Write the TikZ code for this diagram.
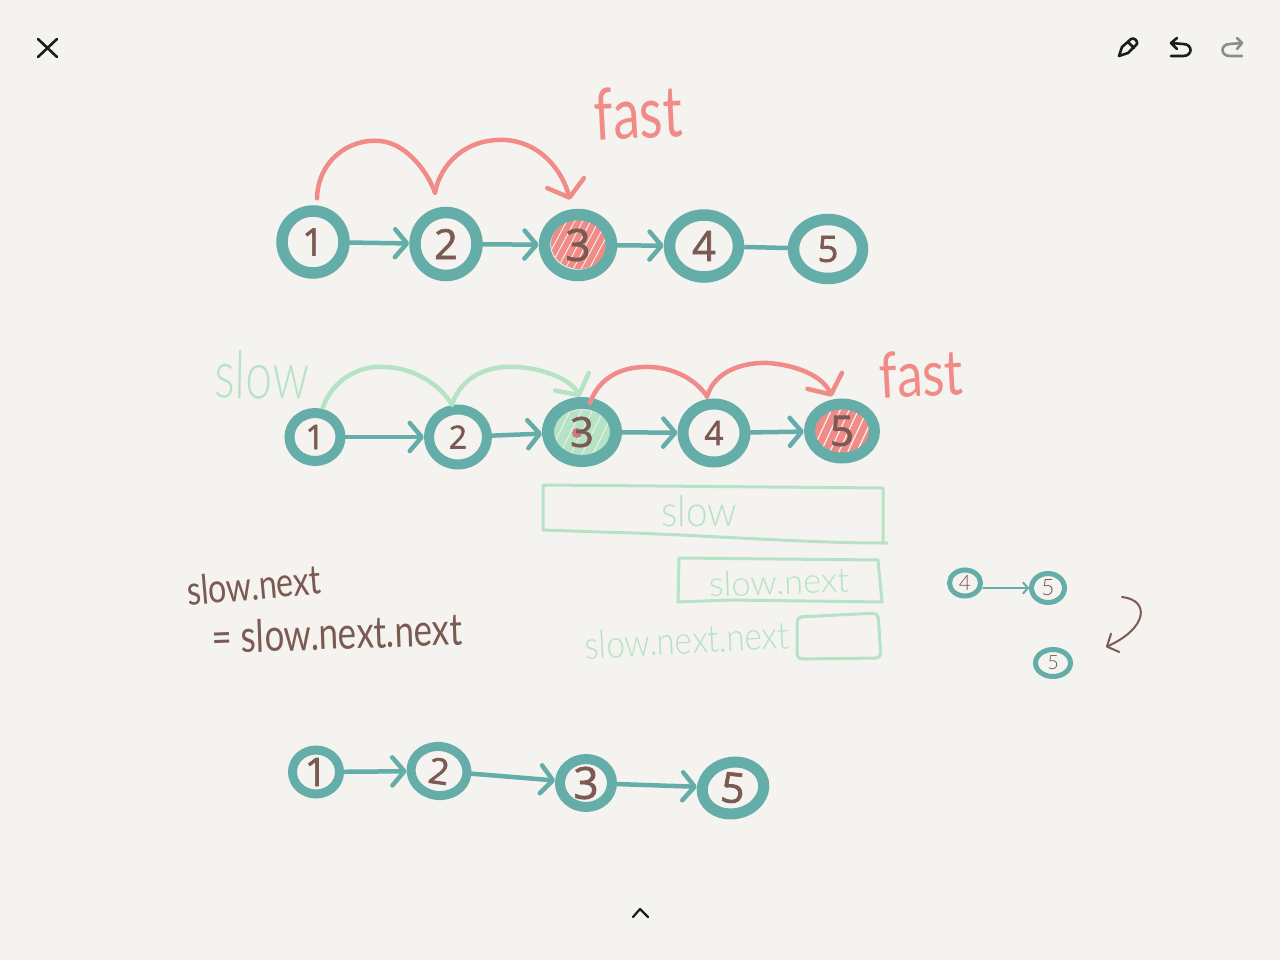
\documentclass[tikz,border=0pt]{standalone}
\usepackage{graphicx}
\usepackage{fontspec}
\setmainfont{Lato}
\newfontfamily\handf[UprightFont={* Light}]{Lato}
\newfontfamily\digitf[FakeBold=1.6]{Open Sans}
\usetikzlibrary{arrows.meta,shapes.geometric}
\definecolor{tealc}{HTML}{65ADA9}
\definecolor{redc}{HTML}{F18B88}
\definecolor{greenc}{HTML}{B6E2C6}
\definecolor{brownc}{HTML}{7A5A52}
\definecolor{bgc}{HTML}{F5F3EF}
\definecolor{inkc}{HTML}{1C1C1C}
\definecolor{dimc}{HTML}{8C8C88}
\newcommand\hw[3]{\resizebox{#1pt}{#2pt}{\handf #3}}
\newcommand\hwb[3]{\resizebox{#1pt}{#2pt}{#3}}
\newcommand\dg[2]{\resizebox{!}{#1pt}{\digitf #2}}
\newcommand\dgt[2]{\resizebox{!}{#1pt}{\handf #2}}
\tikzset{
  ring/.style={ellipse,draw=tealc,line width=#1,inner sep=0pt,text=brownc},
  handtext/.style={inner sep=0pt,text=#1},
  link/.style={draw=tealc,line width=4.5pt,line cap=round,-{Straight Barb[round,length=12pt,width=28pt,line width=4.5pt]}},
  linkplain/.style={draw=tealc,line width=4.5pt},
  tinylink/.style={draw=tealc,line width=2pt,line cap=round,-{Straight Barb[round,length=5pt,width=11pt,line width=2pt]}},
  hop/.style={draw=#1,line width=4.5pt,line cap=round},
  hophead/.style={draw=#1,line width=4.5pt,line cap=round,-{Straight Barb[round,length=15pt,width=38pt,line width=4.5pt]}},
  boxline/.style={draw=greenc,line width=3pt,line cap=round,line join=round},
  icon/.style={draw=#1,line width=2.6pt,line cap=round,line join=round}
}
\begin{document}
\begin{tikzpicture}[x=1pt,y=-1pt]
\fill[bgc] (0,0) rectangle (1280,960);
\useasboundingbox (0,0) rectangle (1280,960);

% scribbled fills
\begin{scope}
  \clip (579,244) ellipse [x radius=28pt,y radius=25pt];
  \fill[redc] (579,244) ellipse [x radius=28pt,y radius=25pt];
  \foreach \d in {0,8,...,72}{\draw[bgc,line width=0.9pt] (530+\d,275)--(562+\d,215);}
\end{scope}
\begin{scope}
  \clip (582,433) ellipse [x radius=30pt,y radius=23pt];
  \fill[greenc] (582,433) ellipse [x radius=30pt,y radius=23pt];
  \foreach \d in {0,11,...,77}{\draw[bgc,line width=0.8pt] (535+\d,460)--(562+\d,405);}
  \fill[redc!70!brownc] (577,433) circle [radius=5pt];
\end{scope}
\begin{scope}
  \clip (842,430) ellipse [x radius=28pt,y radius=23pt];
  \fill[redc] (842,430) ellipse [x radius=28pt,y radius=23pt];
  \foreach \d in {0,9,...,72}{\draw[bgc,line width=1.2pt] (800+\d,458)--(826+\d,402);}
\end{scope}

% first row
\node[ring=11.5pt,minimum width=62pt,minimum height=62pt] (a1) at (313,242) {\dg{27}{1}};
\node[ring=11.5pt,minimum width=62pt,minimum height=63pt] (a2) at (446,244) {\dg{30}{2}};
\node[ring=11.5pt,minimum width=67pt,minimum height=61pt] (a3) at (578,245) {\dg{32}{3}};
\node[ring=11.5pt,minimum width=69pt,minimum height=62pt] (a4) at (704,246) {\dg{30}{4}};
\node[ring=11.5pt,minimum width=69pt,minimum height=59pt] (a5) at (828,249) {\dg{26}{5}};
\draw[link] (a1)--(a2);
\draw[link] (a2)--(a3);
\draw[link] (a3)--(a4);
\draw[linkplain] (a4)--(a5);
\draw[hop=redc] ([shift={(4,-7)}]a1.north) .. controls (318,160) and (350,138) .. (380,141) .. controls (405,143) and (427,170) .. ([shift={(-11,-14)}]a2.north);
\draw[hophead=redc] ([shift={(-11,-14)}]a2.north) .. controls (440,165) and (465,138) .. (505,140) .. controls (540,142) and (562,170) .. ([shift={(-8,-9)}]a3.north);
\node[handtext=redc,rotate=3] (fastA) at (638,113) {\hwb{88}{52}{fast}};

% second row
\node[ring=10pt,minimum width=51pt,minimum height=48pt] (b1) at (315,437) {\dg{24}{1}};
\node[ring=10pt,minimum width=58pt,minimum height=55pt] (b2) at (458,437) {\dg{23}{2}};
\node[ring=12pt,minimum width=68pt,minimum height=58pt] (b3) at (582,432) {\dg{30}{3}};
\node[ring=11pt,minimum width=62pt,minimum height=58pt] (b4) at (714,433) {\dg{24}{4}};
\node[ring=11pt,minimum width=65pt,minimum height=54pt] (b5) at (842,431) {\dg{30}{5}};
\draw[link] (b1)--(b2);
\draw[link] (b2)--(b3);
\draw[link] (b3)--(b4);
\draw[link] (b4)--(b5);
\draw[hop=greenc] ([shift={(8,-1)}]b1.north) .. controls (335,375) and (365,365) .. (385,367) .. controls (415,368) and (440,385) .. ([shift={(-6,0)}]b2.north);
\draw[hophead=greenc] ([shift={(-6,0)}]b2.north) .. controls (462,375) and (490,365) .. (517,367) .. controls (540,368) and (570,378) .. ([shift={(-2,0)}]b3.north);
\draw[hop=redc] ([shift={(8,6)}]b3.north) .. controls (600,375) and (625,366) .. (650,367) .. controls (680,368) and (700,385) .. ([shift={(-7,-2)}]b4.north);
\draw[hophead=redc] ([shift={(-7,-2)}]b4.north) .. controls (715,370) and (745,362) .. (768,363) .. controls (795,365) and (822,375) .. ([shift={(-10,-2)}]b5.north);
\node[handtext=greenc,rotate=-1] (slowA) at (262,375) {\hw{94}{48}{slow}};
\node[handtext=redc,rotate=3] (fastB) at (921,374) {\hwb{84}{46}{fast}};

% memory boxes
\draw[boxline] (543,485) -- (883,488) -- (883,543) .. controls (800,543) and (690,534) .. (600,532) -- (543,530) -- cycle (883,543) -- (887,543);
\node[handtext=greenc] (slowBox) at (699,511) {\hw{76}{31}{slow}};
\draw[boxline] (679,558) -- (878,560) -- (882,602) -- (730,600) -- (678,602) -- cycle;
\node[handtext=greenc,rotate=2] (nextBox) at (779,582) {\hw{140}{25}{slow.next}};
\draw[boxline,rounded corners=5pt] (797,617) -- (878,613) -- (881,658) -- (797,659) -- cycle;
\node[handtext=greenc,rotate=3] (nextnextBox) at (687,640) {\hw{204}{28}{slow.next.next}};

% assignment
\node[handtext=brownc,rotate=5] (lhs) at (254,585) {\hwb{134}{30}{slow.next}};
\node[handtext=brownc,rotate=2] (rhs) at (337,633) {\hwb{250}{33}{= slow.next.next}};

% small nodes
\node[ring=5pt,minimum width=31pt,minimum height=26pt] (s4) at (965,583) {\dgt{15}{4}};
\node[ring=5pt,minimum width=33pt,minimum height=29pt] (s5) at (1048,588) {\dgt{16}{5}};
\node[ring=5pt,minimum width=35pt,minimum height=27pt] (t5) at (1053,663) {\dgt{14}{5}};
\draw[tinylink] ([yshift=-5pt]s4.east)--(s5.west);
\coordinate (curveA) at (1122,597);
\coordinate (curveB) at (1106,647);
\draw[draw=brownc,line width=2pt,line cap=round,-{Straight Barb[round,length=9pt,width=20pt,line width=2pt]}] (curveA) .. controls (1150,600) and (1148,628) .. (curveB);

% third row
\node[ring=9pt,minimum width=47pt,minimum height=44pt] (c1) at (316,772) {\dg{28}{1}};
\node[ring=9pt,minimum width=56pt,minimum height=49pt,rotate=-8] (c2) at (439,771) {\dg{26}{2}};
\node[ring=10pt,minimum width=52pt,minimum height=48pt] (c3) at (586,783) {\dg{32}{3}};
\node[ring=11pt,minimum width=62pt,minimum height=46pt,rotate=12] (c5) at (733,788) {\rotatebox{-18}{\dg{30}{5}}};
\draw[link] (c1)--(c2);
\draw[link] (c2)--(c3);
\draw[link] (c3)--(c5);

% interface icons
\draw[icon=inkc] (38,39)--(57,57) (57,39)--(38,57);
\draw[icon=inkc] (1119,56) -- (1122,47) -- (1131,39) .. controls (1134,37) and (1138,41) .. (1137,44) -- (1128,53) -- cycle (1128,42)--(1134,48);
\draw[icon=inkc] (1177,38)--(1171,43)--(1177,49) (1171,43)--(1183,44) .. controls (1193,44) and (1193,56) .. (1183,56) -- (1171,56);
\draw[icon=dimc] (1237,38)--(1242,43)--(1237,49) (1242,43)--(1230,44) .. controls (1220,44) and (1220,56) .. (1230,56) -- (1242,56);
\draw[icon=inkc,line width=2.2pt] (633,917)--(640,909)--(648,917);
\end{tikzpicture}
\end{document}
